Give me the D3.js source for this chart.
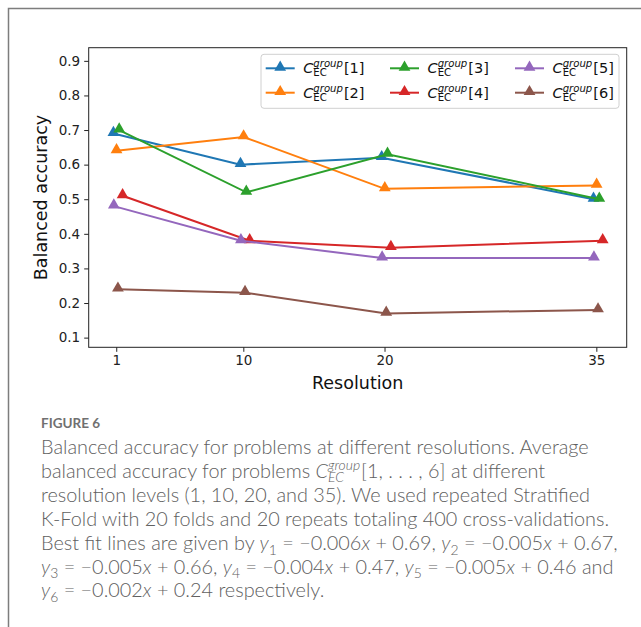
<!DOCTYPE html>
<html>
<head>
<meta charset="utf-8">
<script src="https://cdn.jsdelivr.net/npm/d3@7"></script>
<style>
  body { margin: 0; background: #fff; }
  svg { display: block; }
  svg text { white-space: pre; }
</style>
</head>
<body>
<svg id="viz" width="641" height="627"></svg>
<script>
// data
const resolutions = [1, 10, 20, 35];
const seriesIds = [1, 2, 3, 4, 5, 6];
const acc1 = [0.69, 0.60, 0.62, 0.50];
const acc2 = [0.64, 0.68, 0.53, 0.54];
const acc3 = [0.70, 0.52, 0.63, 0.50];
const acc4 = [0.51, 0.38, 0.36, 0.38];
const acc5 = [0.48, 0.38, 0.33, 0.33];
const acc6 = [0.24, 0.23, 0.17, 0.18];
// small horizontal dodge of each series (in resolution units)
const dodge = [-0.2, 0.02, 0.21, 0.45, -0.17, 0.12];
const yTicks = [0.1, 0.2, 0.3, 0.4, 0.5, 0.6, 0.7, 0.8, 0.9];
const colors = ["#1f77b4", "#ff7f0e", "#2ca02c", "#d62728", "#9467bd", "#8c564b"];

const seriesValues = [acc1, acc2, acc3, acc4, acc5, acc6];
const series = seriesIds.map((id, i) => ({
    id,
    color: colors[i],
    points: resolutions.map((r, j) => ({ x: r + dodge[i], y: seriesValues[i][j] }))
}));

const svg = d3.select("#viz");
const W = 641;
const margin = { top: 47.7, right: 14.3, bottom: 279.7, left: 88.7 };
const plotBottom = 627 - margin.bottom;

const x = d3.scaleLinear().domain([-0.95, 37.15]).range([margin.left, W - margin.right]);
const y = d3.scaleLinear().domain([0.072, 0.938]).range([plotBottom, margin.top]);

const FONT = "'DejaVu Sans', sans-serif";

// outer figure border
svg.append("rect")
    .attr("x", 8.5).attr("y", 8.5)
    .attr("width", 700).attr("height", 700)
    .attr("fill", "none")
    .attr("stroke", "#7d7d7d")
    .attr("stroke-width", 1.5);

// axes
const xAxis = svg.append("g")
    .attr("transform", `translate(0,${plotBottom})`)
    .call(d3.axisBottom(x).tickValues(resolutions).tickSize(4.5).tickPadding(4).tickFormat(d3.format("d")));
const yAxis = svg.append("g")
    .attr("transform", `translate(${margin.left},0)`)
    .call(d3.axisLeft(y).tickValues(yTicks).tickSize(4.5).tickPadding(4).tickFormat(d3.format(".1f")));
[xAxis, yAxis].forEach(a => {
    a.attr("font-family", FONT).attr("font-size", 13.5);
    a.select(".domain").remove();
    a.selectAll("line").attr("stroke", "#222").attr("stroke-width", 1);
    a.selectAll("text").attr("fill", "#222");
});

// frame
svg.append("rect")
    .attr("x", margin.left).attr("y", margin.top)
    .attr("width", W - margin.right - margin.left)
    .attr("height", plotBottom - margin.top)
    .attr("fill", "none")
    .attr("stroke", "#222")
    .attr("stroke-width", 1);

svg.append("text")
    .attr("x", (margin.left + W - margin.right) / 2)
    .attr("y", 389)
    .attr("text-anchor", "middle")
    .attr("font-family", FONT).attr("font-size", 17.5).attr("fill", "#111")
    .text("Resolution");

svg.append("text")
    .attr("transform", `translate(47,${(margin.top + plotBottom) / 2}) rotate(-90)`)
    .attr("text-anchor", "middle")
    .attr("font-family", FONT).attr("font-size", 17.5).attr("fill", "#111")
    .text("Balanced accuracy");

// lines + markers
const line = d3.line().x(d => x(d.x)).y(d => y(d.y));
const tri = d3.symbol().type(d3.symbolTriangle).size(60);

series.forEach(s => {
    const g = svg.append("g");
    g.append("path")
        .attr("d", line(s.points))
        .attr("fill", "none")
        .attr("stroke", s.color)
        .attr("stroke-width", 2);
    g.selectAll("path.m").data(s.points).join("path")
        .attr("class", "m")
        .attr("transform", d => `translate(${x(d.x)},${y(d.y) - 1})`)
        .attr("d", tri)
        .attr("fill", s.color);
});

// rich text helper: one <text>, runs placed left to right as tspans, with stacked sup/sub
function richText(g, x0, yb, runs, base, family, fill, weight) {
    const text = g.append("text")
        .attr("font-family", family).attr("font-size", base)
        .attr("font-weight", weight || 400)
        .attr("fill", fill);
    let cx = x0;
    const put = (t, xx, yy, size, italic) => text.append("tspan")
        .attr("x", xx).attr("y", yy)
        .attr("font-size", size)
        .attr("font-style", italic ? "italic" : "normal")
        .text(t);
    runs.forEach(r => {
        if (r.sup !== undefined) {
            const a = put(r.sup, cx, yb - base * 0.42, base * 0.7, true);
            const b = put(r.sub, cx, yb + base * 0.22, base * 0.7, r.subItalic);
            cx += Math.max(a.node().getComputedTextLength(), b.node().getComputedTextLength()) + 1;
        } else if (r.sub !== undefined) {
            const b = put(r.sub, cx, yb + base * 0.25, base * 0.7, false);
            cx += b.node().getComputedTextLength();
        } else {
            const t = put(r.t, cx, yb, base, r.italic);
            cx += t.node().getComputedTextLength();
        }
    });
    return cx - x0;
}

// legend
const legend = svg.append("g");
legend.append("rect")
    .attr("x", 261).attr("y", 54.3)
    .attr("width", 358).attr("height", 54)
    .attr("rx", 3)
    .attr("fill", "#fff").attr("fill-opacity", 0.8)
    .attr("stroke", "#d0d0d0");

const legCols = [265.7, 390, 515];
const legRows = [68.3, 92.7];
series.forEach((s, i) => {
    const lx = legCols[Math.floor(i / 2)];
    const ly = legRows[i % 2];
    legend.append("line")
        .attr("x1", lx).attr("x2", lx + 29)
        .attr("y1", ly).attr("y2", ly)
        .attr("stroke", s.color).attr("stroke-width", 2);
    legend.append("path")
        .attr("transform", `translate(${lx + 14.5},${ly - 1})`)
        .attr("d", tri).attr("fill", s.color);
    richText(legend, lx + 37.5, ly + 5, [
        { t: "C", italic: true },
        { sup: "group", sub: "EC", subItalic: false },
        { t: `[${s.id}]` }
    ], 14.5, FONT, "#111");
});

// caption
const CAP = "Lato, 'Open Sans', sans-serif";
const capColor = "#606060";
const cap = svg.append("g");
cap.append("text")
    .attr("x", 41).attr("y", 427.5)
    .attr("font-family", CAP).attr("font-size", 13.5).attr("font-weight", 700)
    .attr("fill", "#707070")
    .text("FIGURE 6");

const capX = 41;
const capBase = 454;
const capStep = 23.9;
const ySub = (n) => [{ t: "y", italic: true }, { sub: String(n) }];
const captionLines = [
    [{ t: "Balanced accuracy for problems at different resolutions. Average" }],
    [{ t: "balanced accuracy for problems " }, { t: "C", italic: true },
     { sup: "group", sub: "EC", subItalic: true }, { t: "[1, . . . , 6] at different" }],
    [{ t: "resolution levels (1, 10, 20, and 35). We used repeated Stratified" }],
    [{ t: "K-Fold with 20 folds and 20 repeats totaling 400 cross-validations." }],
    [{ t: "Best fit lines are given by " }, ...ySub(1), { t: " = \u22120.006" }, { t: "x", italic: true },
     { t: " + 0.69, " }, ...ySub(2), { t: " = \u22120.005" }, { t: "x", italic: true }, { t: " + 0.67," }],
    [...ySub(3), { t: " = \u22120.005" }, { t: "x", italic: true }, { t: " + 0.66, " },
     ...ySub(4), { t: " = \u22120.004" }, { t: "x", italic: true }, { t: " + 0.47, " },
     ...ySub(5), { t: " = \u22120.005" }, { t: "x", italic: true }, { t: " + 0.46 and" }],
    [...ySub(6), { t: " = \u22120.002" }, { t: "x", italic: true }, { t: " + 0.24 respectively." }]
];

// fit the caption size to the width of its first line
const probe = cap.append("text").attr("font-family", CAP).attr("font-size", 18).attr("font-weight", 300)
    .text("Balanced accuracy for problems at different resolutions. Average");
const capSize = 18 * 548 / probe.node().getComputedTextLength();
probe.remove();

captionLines.forEach((runs, i) => {
    richText(cap, capX, capBase + i * capStep, runs, capSize, CAP, capColor, 300);
});
</script>
</body>
</html>
